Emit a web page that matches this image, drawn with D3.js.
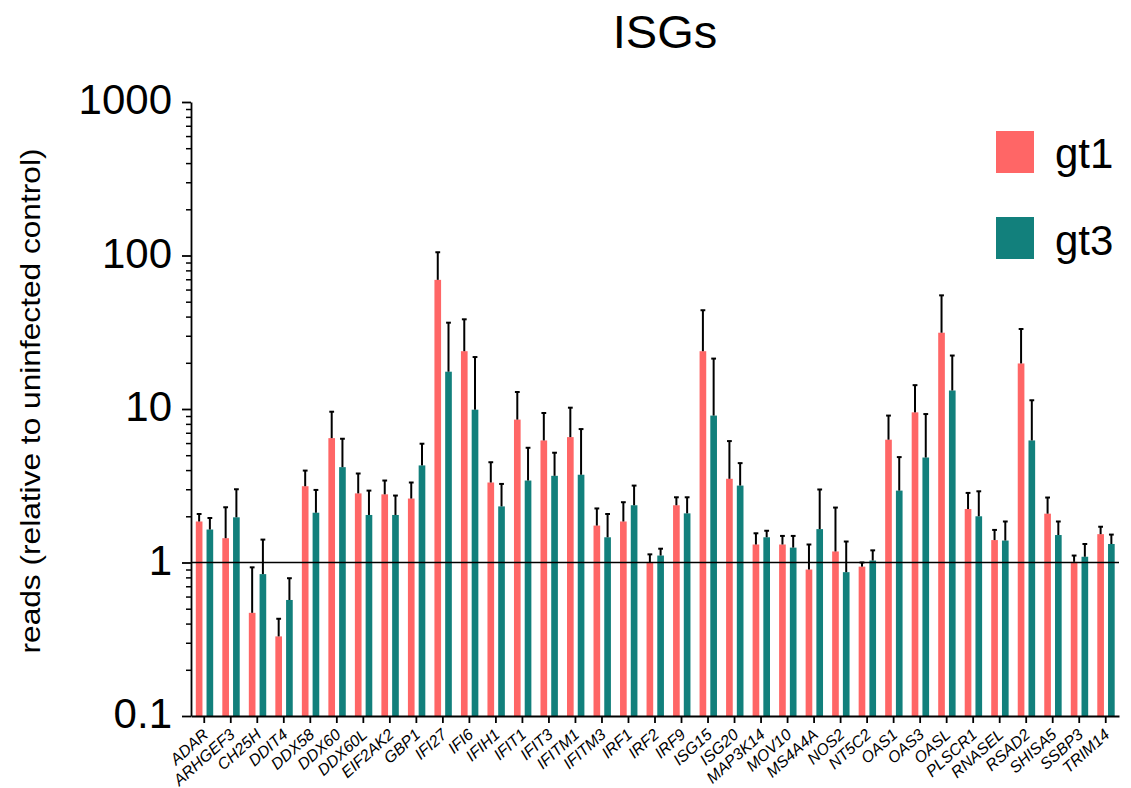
<!DOCTYPE html>
<html>
<head>
<meta charset="utf-8">
<script src="https://cdn.jsdelivr.net/npm/d3@7"></script>
<style>
  html, body { margin: 0; padding: 0; background: #fff; }
  svg { display: block; font-family: "Liberation Sans", Arial, sans-serif; }
</style>
</head>
<body>
<svg id="chart" width="1131" height="788"></svg>
<script>
const genes = ["ADAR","ARHGEF3","CH25H","DDIT4","DDX58","DDX60","DDX60L","EIF2AK2","GBP1","IFI27","IFI6","IFIH1","IFIT1","IFIT3","IFITM1","IFITM3","IRF1","IRF2","IRF9","ISG15","ISG20","MAP3K14","MOV10","MS4A4A","NOS2","NT5C2","OAS1","OAS3","OASL","PLSCR1","RNASEL","RSAD2","SHISA5","SSBP3","TRIM14"];
const seriesNames = ["gt1","gt3"];
const gt1Mean = [1.85,1.44,0.47,0.33,3.14,6.46,2.82,2.78,2.61,69.4,23.8,3.32,8.53,6.24,6.56,1.74,1.85,1.0,2.36,23.8,3.51,1.31,1.31,0.90,1.18,0.94,6.31,9.51,31.4,2.23,1.40,19.8,2.08,1.01,1.53];
const gt1Upper = [2.07,2.29,0.93,0.43,3.97,9.6,3.8,3.42,3.32,105,38.4,4.5,12.9,9.42,10.2,2.25,2.47,1.13,2.66,44,6.18,1.55,1.49,1.31,2.28,1.0,9.06,14.3,55,2.84,1.63,33.2,2.65,1.11,1.71];
const gt3Mean = [1.64,1.97,0.84,0.57,2.11,4.18,2.04,2.04,4.29,17.5,9.9,2.32,3.42,3.67,3.73,1.46,2.36,1.11,2.09,9.06,3.17,1.46,1.25,1.65,0.865,1.03,2.94,4.83,13.2,2.0,1.39,6.24,1.51,1.09,1.32];
const gt3Upper = [1.95,3.0,1.41,0.79,2.97,6.4,2.94,2.73,5.94,36.5,21.8,3.25,5.59,5.19,7.4,2.07,3.17,1.23,2.66,21.3,4.44,1.61,1.49,2.99,1.37,1.2,4.86,9.27,22.3,2.91,1.85,11.4,1.85,1.32,1.52];
const yTicks = [0.1, 1, 10, 100, 1000];
const yTickLabels = ["0.1", "1", "10", "100", "1000"];
const colors = ["#FF6666", "#12807C"];

const svg = d3.select("#chart");

const x = d3.scaleBand().domain(genes).range([191, 1119]).padding(0);
const xs = d3.scaleBand().domain(seriesNames).range([4.8, 22.2]).paddingInner(0.38);
const y = d3.scaleLog().domain([0.1, 1000]).range([716, 102]);

const data = [];
genes.forEach((g, i) => {
  data.push({gene: g, s: "gt1", v: gt1Mean[i], u: gt1Upper[i]});
  data.push({gene: g, s: "gt3", v: gt3Mean[i], u: gt3Upper[i]});
});

// bars
svg.append("g").selectAll("rect").data(data).join("rect")
  .attr("x", d => x(d.gene) + xs(d.s))
  .attr("width", xs.bandwidth())
  .attr("y", d => y(d.v))
  .attr("height", d => y(0.1) - y(d.v))
  .attr("fill", d => colors[seriesNames.indexOf(d.s)]);

// error bars
const eb = svg.append("g").attr("stroke", "#000").attr("stroke-width", 2);
eb.selectAll("line.v").data(data).join("line")
  .attr("x1", d => x(d.gene) + xs(d.s) + xs.bandwidth() / 2)
  .attr("x2", d => x(d.gene) + xs(d.s) + xs.bandwidth() / 2)
  .attr("y1", d => y(d.v))
  .attr("y2", d => y(d.u));
eb.selectAll("line.c").data(data).join("line")
  .attr("x1", d => x(d.gene) + xs(d.s) + xs.bandwidth() / 2 - 2.4)
  .attr("x2", d => x(d.gene) + xs(d.s) + xs.bandwidth() / 2 + 2.4)
  .attr("y1", d => y(d.u))
  .attr("y2", d => y(d.u));

// reference line at 1
svg.append("line")
  .attr("x1", 191).attr("x2", 1119)
  .attr("y1", y(1)).attr("y2", y(1))
  .attr("stroke", "#000").attr("stroke-width", 1.7);

// minor ticks
const minor = [];
for (let e = -1; e < 3; e++) {
  for (let m = 2; m <= 9; m++) minor.push(m * Math.pow(10, e));
}
const yMinor = svg.append("g").attr("transform", "translate(191,0)")
  .call(d3.axisLeft(y).tickValues(minor).tickSize(5).tickFormat(""));
yMinor.select(".domain").remove();
yMinor.selectAll("line").attr("stroke-width", 1.5);

// y axis
const yAxis = svg.append("g").attr("transform", "translate(191,0)")
  .call(d3.axisLeft(y).tickValues(yTicks).tickSize(9).tickSizeOuter(0)
    .tickFormat((d, i) => yTickLabels[i]));
yAxis.select(".domain").attr("stroke-width", 1.8);
yAxis.selectAll("line").attr("stroke-width", 1.8);
yAxis.selectAll("text")
  .attr("font-size", 42)
  .attr("font-family", "Liberation Sans, Arial, sans-serif")
  .attr("fill", "#000")
  .attr("x", -19)
  .attr("dy", "0.28em");

// x axis
const xAxis = svg.append("g").attr("transform", `translate(0,${y(0.1)})`)
  .call(d3.axisBottom(x).tickSize(7).tickSizeOuter(0));
xAxis.select(".domain").attr("stroke-width", 1.8);
xAxis.selectAll("line").attr("stroke-width", 1.8);
xAxis.selectAll("text")
  .attr("font-size", 16)
  .attr("font-style", "italic")
  .attr("font-family", "Liberation Sans, Arial, sans-serif")
  .attr("fill", "#000")
  .attr("text-anchor", "end")
  .attr("y", 0).attr("dy", 0)
  .attr("transform", "translate(5,20) rotate(-42)");

// title
svg.append("text")
  .attr("x", 665).attr("y", 48)
  .attr("text-anchor", "middle")
  .attr("font-size", 47)
  .text("ISGs");

// y label
svg.append("text")
  .attr("transform", "translate(40,401) rotate(-90)")
  .attr("text-anchor", "middle")
  .attr("font-size", 28)
  .attr("textLength", 505)
  .attr("lengthAdjust", "spacingAndGlyphs")
  .text("reads (relative to uninfected control)");

// legend
const legend = svg.append("g");
seriesNames.forEach((s, i) => {
  legend.append("rect")
    .attr("x", 996).attr("y", 131 + i * 86)
    .attr("width", 38).attr("height", 42)
    .attr("fill", colors[i]);
  legend.append("text")
    .attr("x", 1055).attr("y", 168 + i * 87)
    .attr("font-size", 42)
    .text(s);
});
</script>
</body>
</html>
